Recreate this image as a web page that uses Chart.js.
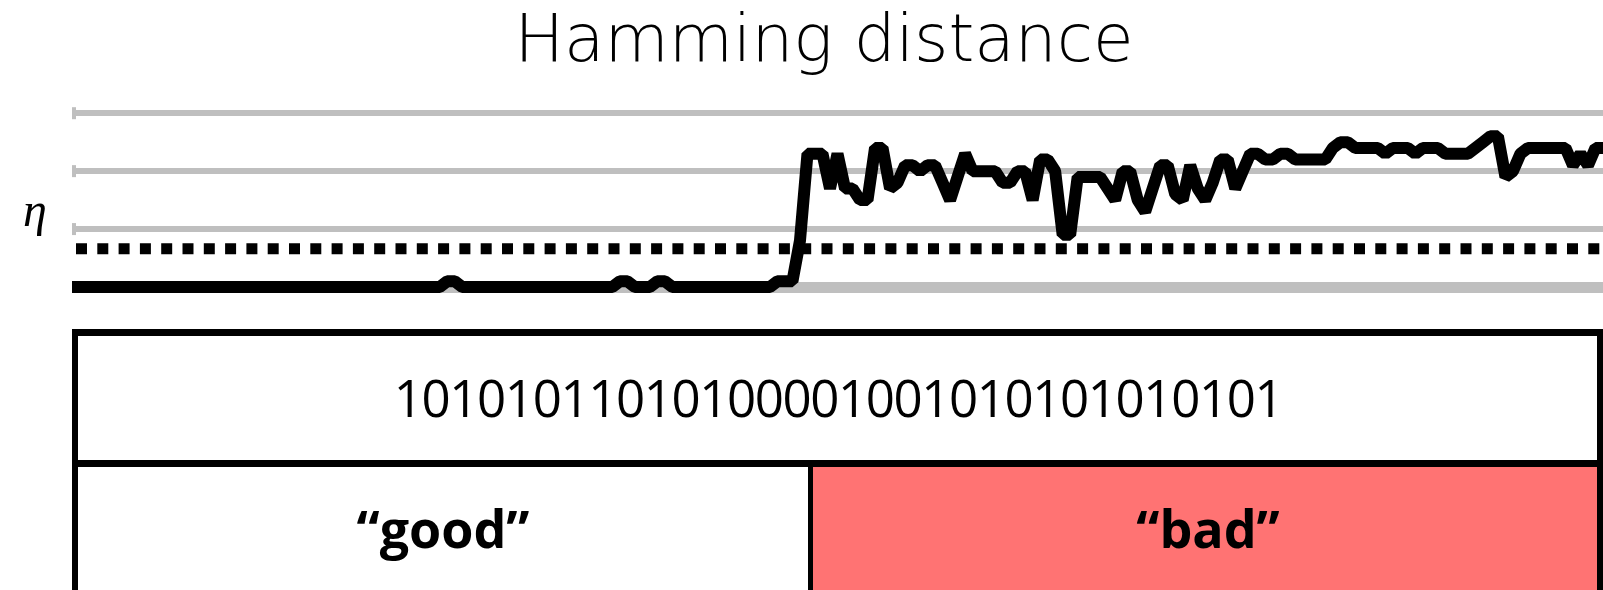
<!DOCTYPE html>
<html>
<head>
<meta charset="utf-8">
<script src="https://cdn.jsdelivr.net/npm/chart.js@4.4.1/dist/chart.umd.min.js"></script>
<style>
  html, body { margin: 0; padding: 0; background: #fff; overflow: hidden; }
  #page { position: relative; width: 1603px; height: 590px; }
  #hamChart { position: absolute; left: 0; top: 0; }
  .eta { position: absolute; left: 23px; top: 182px; font: italic 48px "Liberation Serif", serif; line-height: normal; }
  .frame { position: absolute; left: 72px; top: 329px; width: 1531px; height: 300px; box-sizing: border-box; border: 6px solid #000; border-top-width: 7px; }
  .hline { position: absolute; left: 72px; top: 460px; width: 1531px; height: 7px; background: #000; }
  .vline { position: absolute; left: 808px; top: 460px; width: 5px; height: 140px; background: #000; }
  .bad-cell { position: absolute; left: 813px; top: 467px; width: 790px; height: 130px; background: #ff7373; }
  .bits { position: absolute; left: 78px; width: 1520px; top: 362px; text-align: center; font: 400 51px "Open Sans", sans-serif; letter-spacing: -1.4px; color: #000; line-height: normal; }
  .label { position: absolute; top: 492px; text-align: center; font: 700 52px "Open Sans", sans-serif; color: #000; line-height: normal; }
</style>
</head>
<body>
<div id="page">
  <canvas id="hamChart" width="1603" height="300"></canvas>
  <div class="eta">η</div>
  <div class="bad-cell"></div>
  <div class="frame"></div>
  <div class="hline"></div>
  <div class="vline"></div>
  <div class="bits" id="bits"></div>
  <div class="label" style="left:78px;width:730px;">“good”</div>
  <div class="label" style="left:813px;width:790px;">“bad”</div>
</div>
<script>
// Hamming distance per sample
const hammingValues = [
  0, 0, 0, 0, 0, 0, 0, 0, 0, 0,
  0, 0, 0, 0, 0, 0, 0, 0, 0, 0,
  0, 0, 0, 0, 0, 0, 0, 0, 0, 0,
  0, 0, 0, 0, 0, 0, 0, 0, 0, 0,
  0, 0, 0, 0, 0, 0, 0, 0, 0, 0,
  1, 1, 0, 0, 0, 0, 0, 0, 0, 0,
  0, 0, 0, 0, 0, 0, 0, 0, 0, 0,
  0, 0, 0, 1, 1, 0, 0, 0, 1, 1,
  0, 0, 0, 0, 0, 0, 0, 0, 0, 0,
  0, 0, 0, 0, 1, 1, 1, 8, 23, 23,
  23, 17, 23, 17, 17, 15, 15, 24, 24, 17,
  18, 21, 21, 20, 21, 21, 18, 15, 19, 23,
  20, 20, 20, 20, 18, 18, 20, 20, 15, 22,
  22, 20, 9, 9, 19, 19, 19, 19, 17, 15,
  20, 20, 15, 13, 17, 21, 21, 16, 15, 21,
  17, 15, 18, 22, 22, 17, 20, 23, 23, 22,
  22, 23, 23, 22, 22, 22, 22, 22, 24, 25,
  25, 24, 24, 24, 24, 23, 24, 24, 24, 23,
  24, 24, 24, 23, 23, 23, 23, 24, 25, 26,
  26, 19, 20, 23, 24, 24, 24, 24, 24, 24,
  21, 23, 21, 24, 24
];
const sampleLabels = hammingValues.map((v, i) => String(i + 1));
const etaThreshold = 6.6;
const yTicks = [0, 10, 20, 30];
const bitString = "10101011010100001001010101010101";

document.getElementById("bits").textContent = bitString;

// little light-grey caps at the left end of every grid line
const gridCaps = {
  id: "gridCaps",
  beforeDatasetsDraw(chart) {
    const { ctx, chartArea, scales } = chart;
    const y = scales.y;
    ctx.save();
    ctx.fillStyle = "#bfbfbf";
    y.ticks.forEach((t, i) => {
      const py = y.getPixelForTick(i);
      ctx.fillRect(chartArea.left, py - 6, 4, 12);
    });
    ctx.restore();
  },
};

const ctx = document.getElementById("hamChart").getContext("2d");

const hamChart = new Chart(ctx, {
  type: "line",
  data: {
    labels: sampleLabels,
    datasets: [
      {
        label: "Hamming distance",
        data: hammingValues,
        borderColor: "#000",
        borderWidth: 12,
        borderJoinStyle: "bevel",
        pointRadius: 0,
        tension: 0,
        fill: false,
        clip: { left: 0, right: 0, top: 8, bottom: 8 },
      },
      {
        label: "η",
        data: sampleLabels.map(() => etaThreshold),
        borderColor: "#000",
        borderWidth: 11,
        borderDash: [11, 10.3],
        borderDashOffset: -4,
        borderCapStyle: "butt",
        pointRadius: 0,
        fill: false,
      },
    ],
  },
  options: {
    responsive: false,
    animation: false,
    layout: {
      padding: { left: 45, right: 0, top: 0, bottom: 13 },
    },
    plugins: {
      legend: { display: false },
      tooltip: { enabled: false },
      title: {
        display: true,
        text: "Hamming distance",
        color: "#000",
        font: { family: "DejaVu Sans", size: 66, weight: 200, lineHeight: 1.2 },
        padding: { top: 4, bottom: 30 },
      },
    },
    scales: {
      x: { display: false },
      y: {
        min: yTicks[0],
        max: yTicks[yTicks.length - 1],
        afterFit: (scale) => {
          scale.width = 27;
        },
        afterBuildTicks: (scale) => {
          scale.ticks = yTicks.map((v) => ({ value: v }));
        },
        ticks: { display: false },
        border: { display: false },
        grid: {
          color: "#bfbfbf",
          lineWidth: (c) => (c.tick && c.tick.value === 0 ? 11 : 6),
          drawTicks: false,
        },
      },
    },
  },
  plugins: [gridCaps],
});
</script>
</body>
</html>
